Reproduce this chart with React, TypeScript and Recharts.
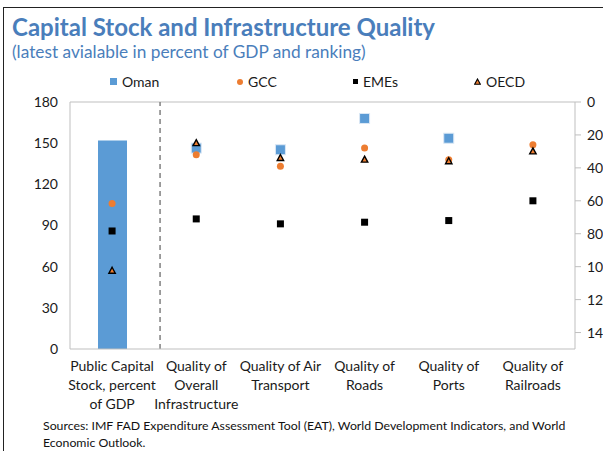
import { ComposedChart, Bar, Scatter, XAxis, YAxis, ReferenceLine } from "recharts";

const categories = [
  "Public Capital\nStock, percent\nof GDP",
  "Quality of\nOverall\nInfrastructure",
  "Quality of Air\nTransport",
  "Quality of\nRoads",
  "Quality of\nPorts",
  "Quality of\nRailroads",
];

// first category, percent of GDP (left axis): Oman, GCC, EMEs, OECD
const capitalStockPct = [152, 106, 86, 57];

// rankings for the five quality categories (right axis, reversed)
const omanRank = [28, 29, 10, 22, null];
const gccRank = [32, 39, 28, 35, 26];
const emesRank = [71, 74, 73, 72, 60];
const oecdRank = [25, 34, 35, 36, 30];

const leftTicks = [0, 30, 60, 90, 120, 150, 180];
const rightTicks = [0, 20, 40, 60, 80, 100, 120, 140];
const xTicks = [0.5, 1.5, 2.5, 3.5, 4.5, 5.5];

const BLUE = "#5B9BD5";
const ORANGE = "#ED7D31";
const FONT = "Lato, 'Open Sans', sans-serif";

const barData = categories.map((c, i) => ({
  x: i + 0.5,
  omanPct: i === 0 ? capitalStockPct[0] : null,
}));

const pctPoint = (v: number) => [{ x: 0.5, y: v }];
const rankPoints = (arr: (number | null)[]) =>
  arr
    .map((v, i) => ({ x: i + 1.5, y: v }))
    .filter((d) => d.y !== null);

const BlueSquare = (p: any) => (
  <rect x={p.cx - 5} y={p.cy - 5} width={10} height={10} fill={BLUE} stroke="#dbe8f5" strokeWidth={1} />
);
const OrangeDot = (p: any) => <circle cx={p.cx} cy={p.cy} r={3.5} fill={ORANGE} />;
const BlackSquare = (p: any) => (
  <rect x={p.cx - 3.5} y={p.cy - 3.5} width={7} height={7} fill="#000" />
);
const Triangle = (p: any) => (
  <path
    d={`M${p.cx},${p.cy - 3.5} L${p.cx + 3.2},${p.cy + 2.5} L${p.cx - 3.2},${p.cy + 2.5} Z`}
    fill={ORANGE}
    stroke="#000"
    strokeWidth={1.4}
  />
);

const CategoryTick = (props: any) => {
  const { x, y, payload } = props;
  const idx = Math.round(payload.value - 0.5);
  const lines = (categories[idx] || "").split("\n");
  return (
    <text x={x} y={y} textAnchor="middle" fill="#1a1a1a" fontSize={14} fontFamily={FONT}>
      {lines.map((l, i) => (
        <tspan key={i} x={x} dy={i === 0 ? 14 : 19}>
          {l}
        </tspan>
      ))}
    </text>
  );
};

const legendItems = [
  { name: "Oman", left: 110, marker: <div style={{ width: 7, height: 7, background: BLUE }} /> },
  { name: "GCC", left: 237, marker: <div style={{ width: 6, height: 6, borderRadius: 3, background: ORANGE }} /> },
  { name: "EMEs", left: 353, marker: <div style={{ width: 5, height: 5, background: "#000" }} /> },
  {
    name: "OECD",
    left: 474,
    marker: (
      <svg width={7} height={7}>
        <path d="M3.5,1 L6.3,6.2 L0.7,6.2 Z" fill={ORANGE} stroke="#000" strokeWidth={1.1} />
      </svg>
    ),
  },
];

export default function App() {
  return (
    <div
      style={{
        position: "absolute",
        left: 0,
        top: 0,
        width: 603,
        height: 451,
        overflow: "hidden",
        background: "#fff",
        fontFamily: FONT,
      }}
    >
      <div
        style={{
          position: "absolute",
          left: 3,
          top: 7,
          width: 700,
          height: 500,
          borderLeft: "1.5px solid #222",
          borderTop: "1.5px solid #222",
        }}
      />
      <div
        style={{
          position: "absolute",
          left: 12,
          top: 12,
          fontSize: 24,
          fontWeight: 700,
          color: "#4a7ebb",
          whiteSpace: "nowrap",
        }}
      >
        Capital Stock and Infrastructure Quality
      </div>
      <div
        style={{
          position: "absolute",
          left: 12,
          top: 41,
          fontSize: 17.3,
          color: "#4a7ebb",
          whiteSpace: "nowrap",
        }}
      >
        (latest avialable in percent of GDP and ranking)
      </div>
      {legendItems.map((it) => (
        <div
          key={it.name}
          style={{
            position: "absolute",
            left: it.left,
            top: 73,
            display: "flex",
            alignItems: "center",
            gap: 5,
            fontSize: 14,
            color: "#1a1a1a",
          }}
        >
          {it.marker}
          <span>{it.name}</span>
        </div>
      ))}
      <div style={{ position: "absolute", left: 0, top: 0 }}>
        <ComposedChart
          width={640}
          height={420}
          data={barData}
          margin={{ top: 102, right: 0, bottom: 11, left: 0 }}
        >
          <XAxis
            dataKey="x"
            type="number"
            domain={[0, 6]}
            ticks={xTicks}
            interval={0}
            axisLine={{ stroke: "#bfbfbf" }}
            tickLine={false}
            tick={<CategoryTick />}
            height={60}
          />
          <YAxis
            yAxisId="left"
            orientation="left"
            domain={[0, 180]}
            ticks={leftTicks}
            width={70}
            axisLine={{ stroke: "#bfbfbf" }}
            tickLine={false}
            tickMargin={6}
            tick={{ fill: "#1a1a1a", fontSize: 14, fontFamily: FONT }}
          />
          <YAxis
            yAxisId="right"
            orientation="right"
            reversed
            domain={[0, 150]}
            ticks={rightTicks}
            width={65}
            axisLine={{ stroke: "#bfbfbf" }}
            tickLine={{ stroke: "#bfbfbf" }}
            tickSize={6}
            tickMargin={6}
            tick={{ fill: "#1a1a1a", fontSize: 14, fontFamily: FONT, textAnchor: "start" }}
          />
          <ReferenceLine yAxisId="left" y={180} stroke="#bfbfbf" />
          <ReferenceLine yAxisId="left" x={1.07} stroke="#808080" strokeWidth={1.5} strokeDasharray="5 4" />
          <Bar yAxisId="left" dataKey="omanPct" fill={BLUE} barSize={29} isAnimationActive={false} />
          <Scatter yAxisId="left" data={pctPoint(capitalStockPct[1])} dataKey="y" shape={OrangeDot} isAnimationActive={false} />
          <Scatter yAxisId="left" data={pctPoint(capitalStockPct[2])} dataKey="y" shape={BlackSquare} isAnimationActive={false} />
          <Scatter yAxisId="left" data={pctPoint(capitalStockPct[3])} dataKey="y" shape={Triangle} isAnimationActive={false} />
          <Scatter yAxisId="right" data={rankPoints(omanRank)} dataKey="y" shape={BlueSquare} isAnimationActive={false} />
          <Scatter yAxisId="right" data={rankPoints(gccRank)} dataKey="y" shape={OrangeDot} isAnimationActive={false} />
          <Scatter yAxisId="right" data={rankPoints(emesRank)} dataKey="y" shape={BlackSquare} isAnimationActive={false} />
          <Scatter yAxisId="right" data={rankPoints(oecdRank)} dataKey="y" shape={Triangle} isAnimationActive={false} />
        </ComposedChart>
      </div>
      <div
        style={{
          position: "absolute",
          left: 43,
          top: 417,
          width: 540,
          fontSize: 12.3,
          lineHeight: "17px",
          color: "#111",
        }}
      >
        Sources: IMF FAD Expenditure Assessment Tool (EAT), World Development Indicators, and World Economic Outlook.
      </div>
    </div>
  );
}
